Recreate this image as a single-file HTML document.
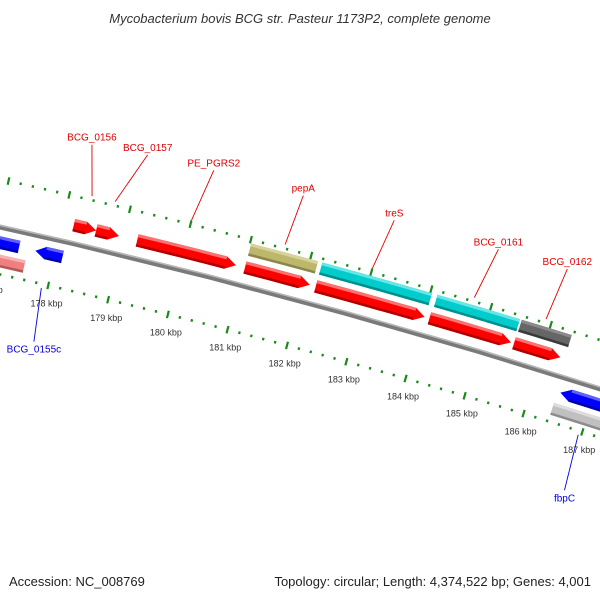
<!DOCTYPE html>
<html><head><meta charset="utf-8"><style>
body{margin:0;background:#fff}
svg{display:block;font-family:"Liberation Sans",sans-serif}
</style></head><body>
<svg id="map" width="600" height="600" viewBox="0 0 600 600">
<rect width="600" height="600" fill="#fff"/>
<text x="300" y="23" text-anchor="middle" font-size="13" font-style="italic" fill="#333">Mycobacterium bovis BCG str. Pasteur 1173P2, complete genome</text>
<g id="ticks"></g>
<g id="backbone"></g>
<g id="features"></g>
<g id="labels"></g>
<text x="9" y="586" font-size="13" fill="#222">Accession: NC_008769</text>
<text x="591" y="586" text-anchor="end" font-size="13" fill="#222">Topology: circular; Length: 4,374,522 bp; Genes: 4,001</text>
</svg>
<script>
// data
const featStarts = [178180,178550,179230,181020,182200,184100,185520, 181020,182200,184120,185530, 176700,177670,186470, 176700,186420];
const featEnds   = [178550,178930,180870,182100,184020,185470,186300, 182130,184030,185500,186370, 177400,178120,188200, 177550,188200];
const featLane   = ['A','A','A','A','A','A','A', 'B','B','B','B', 'C','C','C', 'D','D'];
const featColor  = ['red','red','red','red','red','red','red', 'olive','cyan','cyan','dgray', 'blue','blue','blue', 'pink','lgray'];
const featArrow  = [1,1,1,1,1,1,1, 0,0,0,0, 0,-1,-1, 0,0];
const tickKbp = [176,177,178,179,180,181,182,183,184,185,186,187,188,189];
const labelNames = ['BCG_0156','BCG_0157','PE_PGRS2','pepA','treS','BCG_0161','BCG_0162','BCG_0155c','fbpC'];
const labelBp    = [178360,178740,180000,181550,183000,184700,185900,177900,186950];
const labelLane  = ['A','A','A','B','B','B','B','C','D'];

const NS='http://www.w3.org/2000/svg';
const cx=-1561, cy=7200.7, R0=7147;
const th0=-76.9*Math.PI/180, kRad=0.4967*Math.PI/180/1000;
function ang(bp){return th0+(bp-178000)*kRad;}
function P(bp,off){const t=ang(bp),r=R0+off;return [cx+r*Math.cos(t),cy+r*Math.sin(t)];}
function mk(tag,attrs,parent){const e=document.createElementNS(NS,tag);for(const k in attrs)e.setAttribute(k,attrs[k]);parent.appendChild(e);return e;}
function arcPts(b1,b2,off){const pts=[];const n=6;for(let i=0;i<=n;i++){pts.push(P(b1+(b2-b1)*i/n,off));}return pts;}
function ps(pts){return pts.map(p=>p[0].toFixed(1)+','+p[1].toFixed(1)).join(' ');}

const laneOff={A:17.5,B:36,C:-16,D:-34};
const H=6.3;
const colors={red:['#ff0000','#ff7070','#b00000'],olive:['#bdb76b','#d6d29a','#8a864c'],cyan:['#00cccc','#66e6e6','#008f8f'],dgray:['#666666','#8a8a8a','#3a3a3a'],blue:['#0000ff','#6060ff','#0000a8'],pink:['#f08080','#f8b0b0','#b05a5a'],lgray:['#c0c0c0','#dddddd','#8c8c8c']};

// backbone
const bb=document.getElementById('backbone');
const bbP=mk('polyline',{points:ps(arcPts(176000,189500,-0.5)),fill:'none',stroke:'#7a7a7a','stroke-width':5},bb);


const bbH=mk('polyline',{points:ps(arcPts(176000,189500,1.3)),fill:'none',stroke:'#b8b8b8','stroke-width':1.5},bb);



// ticks
const tg=document.getElementById('ticks');
for(let b=176000;b<=189000;b+=200){
  const major=(b%1000===0);
  [46,-47].forEach(o=>{
    const len=major?3.8:1.3;
    const a=P(b,o-len),c=P(b,o+len);
    const l=mk('line',{x1:a[0],y1:a[1],x2:c[0],y2:c[1],stroke:'#1a8a1a','stroke-width':2.2},tg);
    
    
  });
}
tickKbp.forEach(k=>{
  const p=P(k*1000+40,-65);
  const t=mk('text',{x:p[0].toFixed(1),y:(p[1]+3).toFixed(1),'text-anchor':'middle','font-size':9,fill:'#333'},tg);
  t.textContent=k+' kbp';
  
  
});

// features
const fg=document.getElementById('features');
const headBp=170;
featStarts.forEach((s,i)=>{
  const e=featEnds[i],o=laneOff[featLane[i]],col=colors[featColor[i]],ar=featArrow[i];
  const rIn=o-H,rOut=o+H;
  let poly;
  if(ar===1){const hb=Math.max(s,e-headBp);
    poly=arcPts(s,hb,rOut).concat([P(e,o)]).concat(arcPts(s,hb,rIn).reverse());}
  else if(ar===-1){const hb=Math.min(e,s+headBp);
    poly=[P(s,o)].concat(arcPts(hb,e,rOut)).concat(arcPts(hb,e,rIn).reverse());}
  else{poly=arcPts(s,e,rOut).concat(arcPts(s,e,rIn).reverse());}
  const g=mk('g',{},fg);
  
  
  mk('polygon',{points:ps(poly),fill:col[0]},g);
  let s2=s,e2=e;
  if(ar===1)e2=Math.max(s,e-headBp);
  if(ar===-1)s2=Math.min(e,s+headBp);
  const hi=arcPts(s2,e2,rOut).concat(arcPts(s2,e2,rOut-3).reverse());
  mk('polygon',{points:ps(hi),fill:col[1]},g);
  const lo=arcPts(s2,e2,rIn+2.5).concat(arcPts(s2,e2,rIn).reverse());
  mk('polygon',{points:ps(lo),fill:col[2]},g);
});

// labels
const lg=document.getElementById('labels');
const labelOff=[100,103,104,102,102,103,104,-105,-108];
const labelShift=[-190,330,150,80,130,150,90,80,60];
labelNames.forEach((n,i)=>{
  const o=laneOff[labelLane[i]];
  const a=P(labelBp[i],o>0?46+4:-47-4);
  const tEnd=P(labelBp[i]+labelShift[i],labelOff[i]);
  const color=o>0?'#e00000':'#0000e0';
  const ln=mk('line',{x1:a[0],y1:a[1],x2:tEnd[0],y2:tEnd[1],stroke:color,'stroke-width':0.9},lg);
  
  
  const ty=o>0?tEnd[1]-4:tEnd[1]+11;
  const t=mk('text',{x:tEnd[0].toFixed(1),y:ty.toFixed(1),'text-anchor':'middle','font-size':10,fill:color},lg);
  t.textContent=n;
  
  
});
</script>
</body></html>
